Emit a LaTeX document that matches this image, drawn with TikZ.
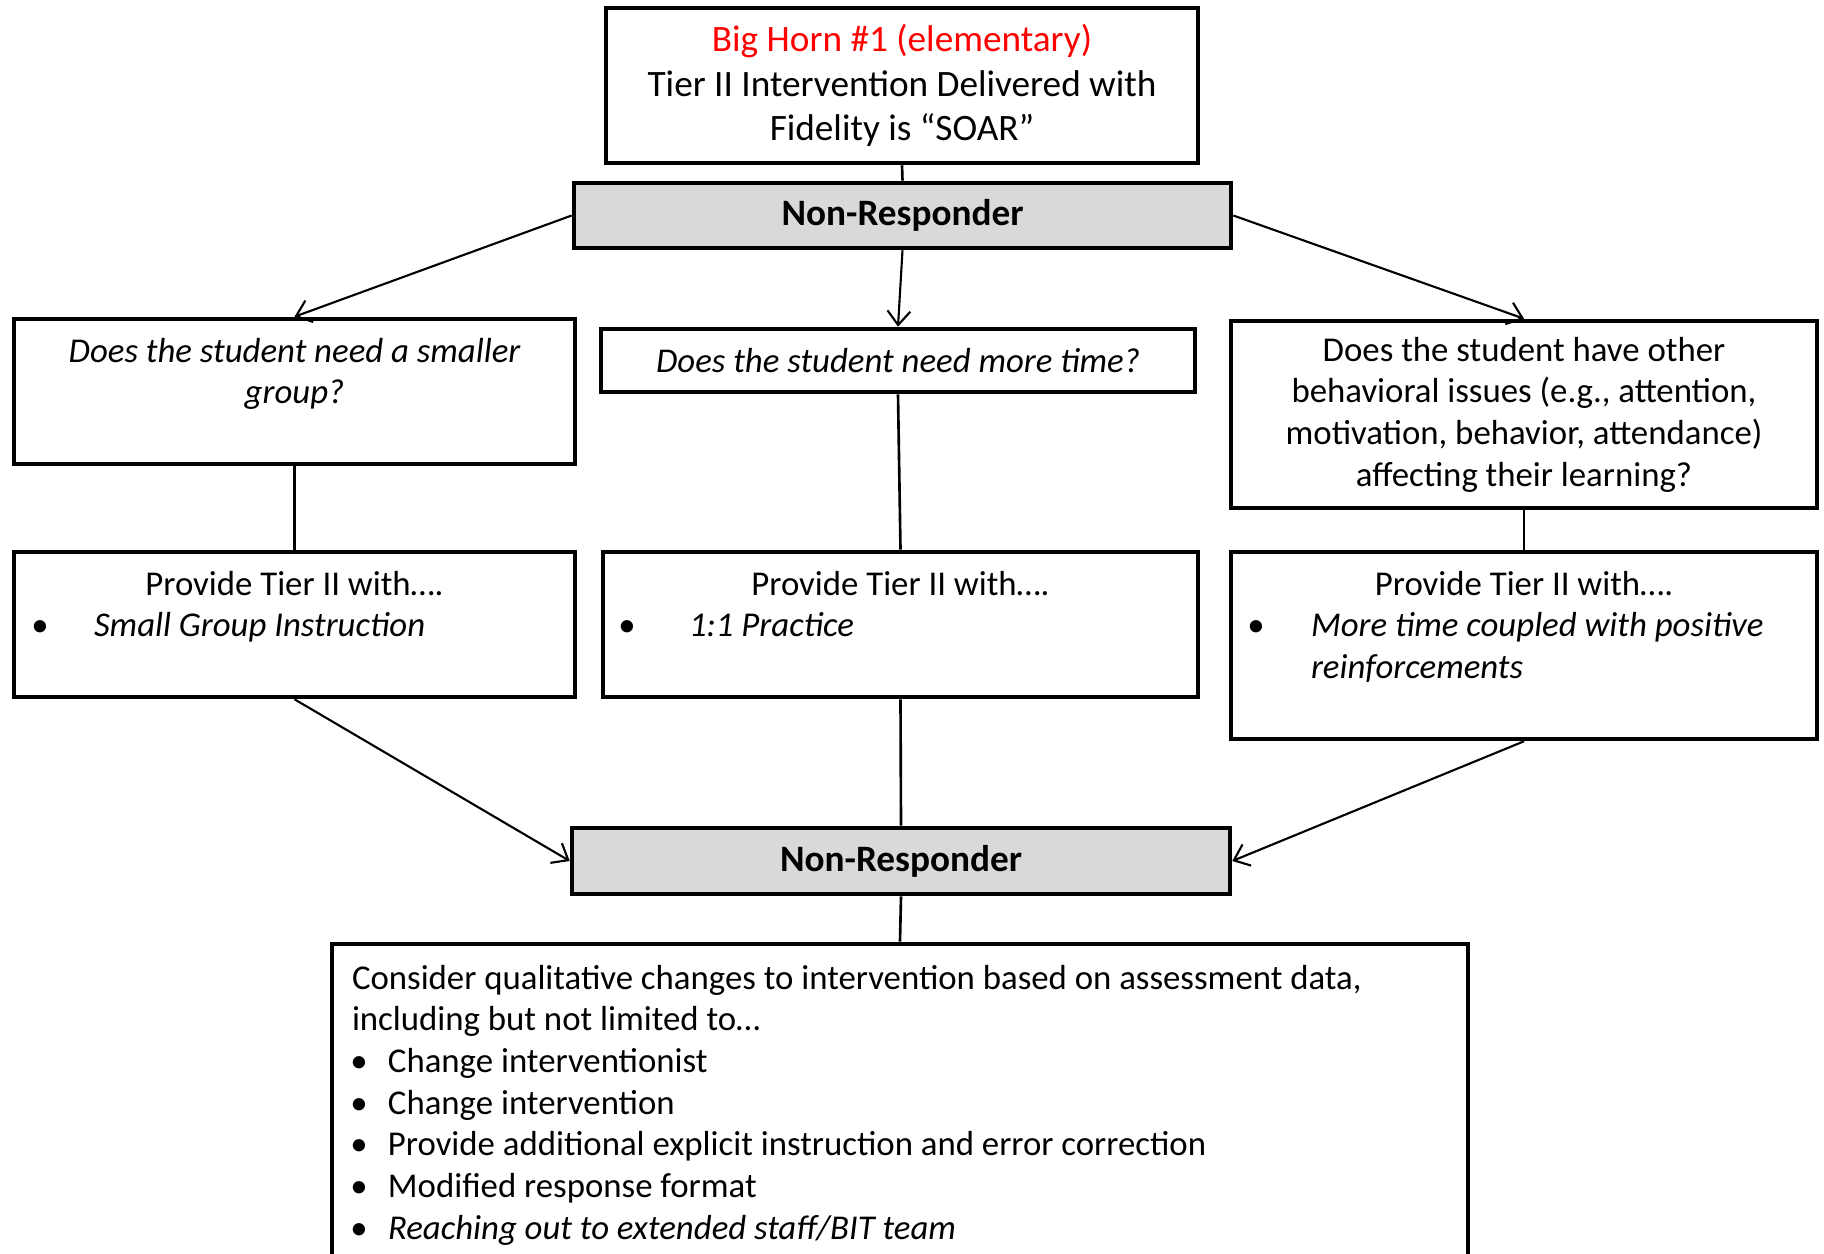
\documentclass[tikz,border=0pt]{standalone}
\usepackage{fontspec}
\setmainfont{Carlito}
\usepackage{tikz}
\usetikzlibrary{arrows.meta}

\definecolor{nrgray}{HTML}{D9D9D9}
\newcommand{\bodyfont}{\fontsize{9.9pt}{11.85pt}\selectfont}
\newcommand{\bigfont}{\fontsize{10.6pt}{11.85pt}\selectfont}
% bullet centred at #1, its text #2 further on
\newcommand{\bpt}[3]{\par\hspace*{#1}\makebox[0pt]{\textbullet}\hspace*{#2}#3}

\begin{document}
\begin{tikzpicture}[
  >={Straight Barb[length=4pt,width=6.5pt]},
  box/.style={draw, line width=1.3pt, inner sep=0pt, align=center, font=\bodyfont},
  nrbox/.style={box, fill=nrgray, font=\bigfont\bfseries},
  link/.style={line width=0.75pt},
  arr/.style={->, line width=0.6pt}
]

\useasboundingbox (0,0) rectangle (18.24,-12.54);

% top of the chart
\node[box, font=\bigfont, minimum width=5.92cm, minimum height=1.55cm] (top) at (9.02,-0.855)
  {\textcolor{red}{Big Horn \#1 (elementary)}\\[0.9pt]Tier II Intervention Delivered with\\[0.9pt]Fidelity is “SOAR”};
\node[nrbox, minimum width=6.57cm, minimum height=0.65cm] (nr1) at (9.025,-2.155) {Non-Responder};

% questions
\node[box, minimum width=5.61cm, minimum height=1.45cm] (qL) at (2.945,-3.915)
  {\parbox[c][1.45cm][t]{5.61cm}{\centering\vspace*{0.14cm}\strut\textit{Does the student need a smaller\\group?}}};
\node[box, minimum width=5.94cm, minimum height=0.63cm] (qM) at (8.98,-3.605)
  {\textit{Does the student need more time?}};
\node[box, minimum width=5.86cm, minimum height=1.87cm] (qR) at (15.24,-4.145)
  {Does the student have other\\behavioral issues (e.g., attention,\\motivation, behavior, attendance)\\affecting their learning?};

% what to provide
\node[box, minimum width=5.61cm, minimum height=1.45cm] (pL) at (2.945,-6.245)
  {\parbox[c][1.45cm][t]{5.61cm}{\vspace*{0.14cm}{\centering\strut Provide Tier II with….\par}\raggedright
   \bpt{0.26cm}{0.54cm}{\textit{Small Group Instruction}}}};
\node[box, minimum width=5.95cm, minimum height=1.45cm] (pM) at (9.005,-6.245)
  {\parbox[c][1.45cm][t]{5.95cm}{\vspace*{0.14cm}{\centering\strut Provide Tier II with….\par}\raggedright
   \bpt{0.24cm}{0.62cm}{\textit{1:1 Practice}}}};
\node[box, minimum width=5.86cm, minimum height=1.87cm] (pR) at (15.24,-6.455)
  {\parbox[c][1.87cm][t]{5.86cm}{\vspace*{0.14cm}{\centering\strut Provide Tier II with….\par}\raggedright
   \bpt{0.25cm}{0.55cm}{\textit{More time coupled with positive}}\\\hspace*{0.80cm}\textit{reinforcements}}};

\node[nrbox, minimum width=6.58cm, minimum height=0.66cm] (nr2) at (9.01,-8.61) {Non-Responder};

% last step, runs off the bottom
\node[box, minimum width=11.36cm, minimum height=3.46cm] (bot) at (9.00,-11.17)
  {\parbox[c][3.46cm][t]{11.36cm}{\vspace*{0.16cm}\raggedright
   \hspace*{0.20cm}\strut Consider qualitative changes to intervention based on assessment data,\\
   \hspace*{0.20cm}including but not limited to…
   \bpt{0.27cm}{0.29cm}{Change interventionist}
   \bpt{0.27cm}{0.29cm}{Change intervention}
   \bpt{0.27cm}{0.29cm}{Provide additional explicit instruction and error correction}
   \bpt{0.27cm}{0.29cm}{Modified response format}
   \bpt{0.27cm}{0.29cm}{\textit{Reaching out to extended staff/BIT team}}}};

% connectors
\draw[link] (top.south) -- (nr1.north);
\draw[arr] (nr1.west) -- (qL.north);
\draw[arr] (nr1.south) -- (qM.north);
\draw[arr] (nr1.east) -- (qR.north);
\draw[link] (qL.south) -- (pL.north);
\draw[link] (qM.south) -- (pM.north);
\draw[link] (qR.south) -- (pR.north);
\draw[arr] (pL.south) -- (nr2.west);
\draw[link] (pM.south) -- (nr2.north);
\draw[arr] (pR.south) -- (nr2.east);
\draw[link] (nr2.south) -- (bot.north);

\end{tikzpicture}
\end{document}
